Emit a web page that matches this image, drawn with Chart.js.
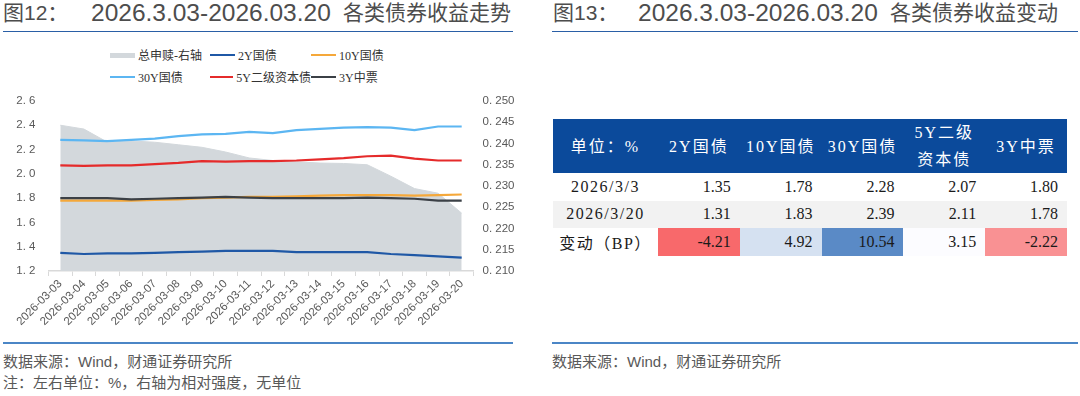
<!DOCTYPE html>
<html lang="zh-CN">
<head>
<meta charset="utf-8">
<title>各类债券收益走势与变动</title>
<script src="https://cdn.jsdelivr.net/npm/chart.js@4.4.1/dist/chart.umd.min.js"></script>
<style>
  html, body { margin: 0; padding: 0; background: #fff; }
  body {
    width: 1080px; height: 396px; position: relative; overflow: hidden;
    font-family: "Liberation Sans", "Noto Sans CJK SC", sans-serif;
  }
  .title {
    position: absolute; top: 0; height: 26px; line-height: 26px;
    font-size: 21px; color: #4d4d4d; white-space: nowrap;
  }
  .title.num { font-size: 24.5px; }
  .rule { position: absolute; height: 1.5px; }
  .rule.top { top: 30.5px; background: #2a5fa6; }
  .rule.bottom { top: 342px; background: #4b86c6; }
  .note {
    position: absolute; font-size: 15px; line-height: 22px; color: #595959; white-space: nowrap;
  }
  #legend {
    position: absolute; left: 110px; top: 44px;
    display: grid; grid-template-columns: 100px 101px auto; grid-auto-rows: 22px;
    font-family: "Liberation Serif", "Noto Sans CJK SC", serif; font-size: 12px; color: #333;
  }
  #legend .item { display: flex; align-items: center; white-space: nowrap; }
  #legend .swatch { width: 25px; margin-right: 3px; }
  #chartBox { position: absolute; left: 0; top: 90px; width: 535px; height: 240px; }
  #yieldTable {
    position: absolute; left: 553px; top: 119px; width: 514px;
    border-collapse: collapse; table-layout: fixed;
    font-family: "Liberation Serif", "Noto Sans CJK SC", serif; font-size: 16px; color: #1a1a1a;
  }
  #yieldTable th {
    background: #0b4a9b; color: #fff; font-weight: normal; height: 53px; padding: 0;
    text-align: center; letter-spacing: 2px; white-space: pre-line; line-height: 27px;
  }
  #yieldTable td { height: 27.5px; padding: 0 9px 0 0; text-align: right; }
  #yieldTable td.rowhead { text-align: center; padding: 0; letter-spacing: 1.5px; }
  #yieldTable tr.shade td { background: #f2f2f2; }
</style>
</head>
<body>

<!-- left: trend chart -->
<div class="title" style="left:3px">图12：</div>
<div class="title num" style="left:91px">2026.3.03-2026.03.20</div>
<div class="title" style="left:343px">各类债券收益走势</div>
<div class="rule top" style="left:3px; width:510px"></div>
<div id="legend"></div>
<div id="chartBox"><canvas id="trendChart"></canvas></div>
<div class="rule bottom" style="left:3px; width:510px"></div>
<div class="note" style="left:3px; top:351px">数据来源：Wind，财通证券研究所</div>
<div class="note" style="left:3px; top:372px">注：左右单位：%，右轴为相对强度，无单位</div>

<!-- right: change table -->
<div class="title" style="left:553px">图13：</div>
<div class="title num" style="left:638px">2026.3.03-2026.03.20</div>
<div class="title" style="left:890px">各类债券收益变动</div>
<div class="rule top" style="left:552px; width:526px"></div>
<table id="yieldTable">
  <colgroup><col style="width:105px"><col><col><col><col><col></colgroup>
  <thead><tr id="headRow"></tr></thead>
  <tbody id="tableBody"></tbody>
</table>
<div class="rule bottom" style="left:552px; width:526px"></div>
<div class="note" style="left:552px; top:351px">数据来源：Wind，财通证券研究所</div>

<script>
const dates = [
  "2026-03-03", "2026-03-04", "2026-03-05", "2026-03-06", "2026-03-07", "2026-03-08",
  "2026-03-09", "2026-03-10", "2026-03-11", "2026-03-12", "2026-03-13", "2026-03-14",
  "2026-03-15", "2026-03-16", "2026-03-17", "2026-03-18", "2026-03-19", "2026-03-20",
];

// right axis, relative strength
const flowStrength = [
  0.2443, 0.2434, 0.2403, 0.2406, 0.2403, 0.2397, 0.2391, 0.2380, 0.2366,
  0.2360, 0.2357, 0.2354, 0.2353, 0.2350, 0.2323, 0.2294, 0.2283, 0.2236,
];
// left axis, %
const cgb2y = [1.35, 1.34, 1.345, 1.345, 1.35, 1.355, 1.36, 1.365, 1.365, 1.365, 1.355, 1.355, 1.355, 1.355, 1.34, 1.33, 1.32, 1.31];
const cgb10y = [1.78, 1.78, 1.78, 1.78, 1.785, 1.79, 1.80, 1.805, 1.81, 1.81, 1.815, 1.82, 1.825, 1.825, 1.825, 1.82, 1.825, 1.83];
const cgb30y = [2.28, 2.275, 2.27, 2.28, 2.29, 2.31, 2.325, 2.33, 2.345, 2.335, 2.36, 2.37, 2.38, 2.385, 2.38, 2.36, 2.39, 2.39];
const tier2_5y = [2.07, 2.065, 2.07, 2.07, 2.08, 2.09, 2.105, 2.10, 2.105, 2.105, 2.11, 2.12, 2.13, 2.145, 2.15, 2.125, 2.11, 2.11];
const mtn3y = [1.80, 1.80, 1.80, 1.79, 1.795, 1.80, 1.805, 1.81, 1.805, 1.80, 1.80, 1.80, 1.80, 1.805, 1.80, 1.795, 1.78, 1.78];

const seriesNames = ["总申赎-右轴", "2Y国债", "10Y国债", "30Y国债", "5Y二级资本债", "3Y中票"];
const seriesColors = ["#d3d8dc", "#1f58a6", "#f5a83a", "#5cb6f2", "#e52b2b", "#3b4046"];

const leftAxis = { min: 1.2, max: 2.6, step: 0.2 };
const rightAxis = { min: 0.21, max: 0.25, step: 0.005 };

// table
const tableHead = ["单位：%", "2Y国债", "10Y国债", "30Y国债", "5Y二级\n资本债", "3Y中票"];
const startLabel = "2026/3/3";
const endLabel = "2026/3/20";
const changeLabel = "变动（BP）";
const startYield = [1.35, 1.78, 2.28, 2.07, 1.80];
const endYield = [1.31, 1.83, 2.39, 2.11, 1.78];
const changeBp = [-4.21, 4.92, 10.54, 3.15, -2.22];

// legend (html, 3 columns)
const legendBox = document.getElementById("legend");
seriesNames.forEach((name, i) => {
  const item = document.createElement("div");
  item.className = "item";
  const sw = document.createElement("span");
  sw.className = "swatch";
  sw.style.height = i === 0 ? "5px" : "2.5px";
  sw.style.background = seriesColors[i];
  item.appendChild(sw);
  item.appendChild(document.createTextNode(name));
  legendBox.appendChild(item);
});

const lineSet = (idx, data, order) => ({
  label: seriesNames[idx],
  data: data,
  borderColor: seriesColors[idx],
  backgroundColor: seriesColors[idx],
  borderWidth: 2.2,
  pointRadius: 0,
  tension: 0,
  fill: false,
  yAxisID: "y",
  order: order,
});

const tickFont = { family: "Liberation Sans", size: 11.5 };

// fix the axis box so the plot area lands where the original one is
const fixYAxis = (w) => (scale) => {
  scale.width = w;
  scale.paddingTop = 7;
  scale.paddingBottom = 7;
};

const ctx = document.getElementById("trendChart").getContext("2d");
new Chart(ctx, {
  type: "line",
  data: {
    labels: dates,
    datasets: [
      {
        label: seriesNames[0],
        data: flowStrength,
        yAxisID: "y1",
        fill: "start",
        backgroundColor: seriesColors[0],
        borderColor: seriesColors[0],
        borderWidth: 1,
        pointRadius: 0,
        tension: 0,
        order: 6,
      },
      lineSet(1, cgb2y, 5),
      lineSet(2, cgb10y, 4),
      lineSet(3, cgb30y, 3),
      lineSet(4, tier2_5y, 2),
      lineSet(5, mtn3y, 1),
    ],
  },
  options: {
    responsive: true,
    maintainAspectRatio: false,
    devicePixelRatio: 1,
    animation: false,
    layout: { padding: { top: 11, left: 0, right: 0, bottom: 0 } },
    scales: {
      x: {
        offset: true,
        grid: {
          offset: true,
          drawOnChartArea: false,
          drawTicks: true,
          tickLength: 5,
          color: "#d9d9d9",
        },
        border: { display: true, color: "#d9d9d9", width: 1.5 },
        ticks: {
          autoSkip: false,
          minRotation: 45,
          maxRotation: 45,
          padding: 1,
          color: "#595959",
          font: tickFont,
        },
        afterFit: (scale) => { scale.height = 59; },
      },
      y: {
        position: "left",
        min: leftAxis.min,
        max: leftAxis.max,
        grid: { display: false, drawTicks: false },
        border: { display: false },
        ticks: {
          stepSize: leftAxis.step,
          padding: 13,
          color: "#595959",
          font: tickFont,
          callback: (v) => v.toFixed(1).replace(".", ". "),
        },
        afterFit: fixYAxis(48.5),
      },
      y1: {
        position: "right",
        min: rightAxis.min,
        max: rightAxis.max,
        grid: { display: false, drawTicks: false },
        border: { display: false },
        ticks: {
          stepSize: rightAxis.step,
          padding: 9,
          color: "#595959",
          font: tickFont,
          callback: (v) => v.toFixed(3).replace(".", ". "),
        },
        afterFit: fixYAxis(61.5),
      },
    },
    plugins: {
      legend: { display: false },
      tooltip: { enabled: false },
    },
  },
});

// excel style 3 colour scale for the change row
function scaleColor(v) {
  const sorted = changeBp.slice().sort((a, b) => a - b);
  const lo = sorted[0], hi = sorted[sorted.length - 1], mid = sorted[Math.floor(sorted.length / 2)];
  const red = [248, 105, 107], white = [252, 252, 255], blue = [90, 138, 198];
  let from, to, t;
  if (v <= mid) { from = red; to = white; t = (v - lo) / (mid - lo); }
  else { from = white; to = blue; t = (v - mid) / (hi - mid); }
  const c = from.map((f, i) => Math.round(f + (to[i] - f) * t));
  return `rgb(${c[0]}, ${c[1]}, ${c[2]})`;
}

const headRow = document.getElementById("headRow");
tableHead.forEach((h) => {
  const th = document.createElement("th");
  th.textContent = h;
  headRow.appendChild(th);
});

const body = document.getElementById("tableBody");
function addRow(label, values, shade, colored) {
  const tr = document.createElement("tr");
  if (shade) tr.className = "shade";
  const first = document.createElement("td");
  first.className = "rowhead";
  first.textContent = label;
  tr.appendChild(first);
  values.forEach((v) => {
    const td = document.createElement("td");
    td.textContent = v.toFixed(2);
    if (colored) td.style.background = scaleColor(v);
    tr.appendChild(td);
  });
  body.appendChild(tr);
}
addRow(startLabel, startYield, false, false);
addRow(endLabel, endYield, true, false);
addRow(changeLabel, changeBp, false, true);
</script>
</body>
</html>
